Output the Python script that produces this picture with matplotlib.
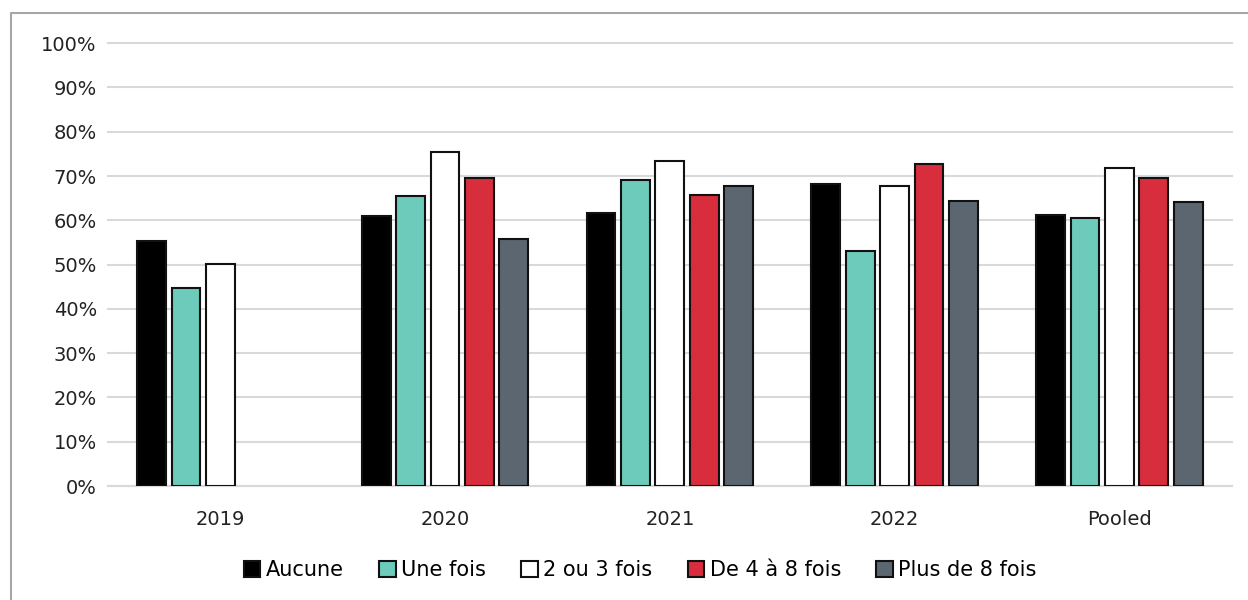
import matplotlib.pyplot as plt
import numpy as np
from matplotlib.lines import Line2D

# === Data ===
years = ["2019", "2020", "2021", "2022", "Pooled"]
series = ["Aucune", "Une fois", "2 ou 3 fois", "De 4 à 8 fois", "Plus de 8 fois"]
aucune = [55.3, 60.9, 61.6, 68.1, 61.2]
une_fois = [44.7, 65.6, 69.1, 53.1, 60.6]
deux_trois = [50.1, 75.5, 73.3, 67.7, 71.9]
quatre_huit = [np.nan, 69.6, 65.7, 72.7, 69.5]
plus_huit = [np.nan, 55.8, 67.8, 64.3, 64.1]
yticks = [0, 10, 20, 30, 40, 50, 60, 70, 80, 90, 100]

colors = ["#000000", "#6CCBBA", "#FFFFFF", "#D72D3C", "#5B6670"]
values = [aucune, une_fois, deux_trois, quatre_huit, plus_huit]

plt.rcParams['font.family'] = ['DejaVu Sans']

fig = plt.figure(figsize=(12.48, 6), dpi=100)
ax = fig.add_axes([0.0865, 0.19, 0.9005, 0.738])

# grey border: top and left only
fig.add_artist(Line2D([11 / 1248, 11 / 1248, 1], [0, 1 - 13 / 600, 1 - 13 / 600],
                      transform=fig.transFigure, color="#A6A6A6", linewidth=1.5))

x = np.arange(len(years))
step = 0.153
width = 0.128
for i, (name, vals, c) in enumerate(zip(series, values, colors)):
    ax.bar(x + (i - 2) * step, vals, width, color=c, edgecolor="#111111",
           linewidth=1.5, label=name, zorder=3)

ax.set_xlim(-0.5, len(years) - 0.5)
ax.set_ylim(0, 100)
ax.set_yticks(yticks)
ax.set_yticklabels([f"{t}%" for t in yticks], fontsize=14, color="#222222")
ax.set_xticks(x)
ax.set_xticklabels(years, fontsize=14, color="#222222")
ax.tick_params(axis="both", length=0, pad=8)
ax.tick_params(axis="x", pad=17)
ax.grid(axis="y", color="#D9D9D9", linewidth=1.5, zorder=0)
for gl in ax.get_ygridlines():
    gl.set_clip_on(False)
for s in ["left", "right", "top"]:
    ax.spines[s].set_visible(False)
ax.spines["bottom"].set_color("#D9D9D9")
ax.spines["bottom"].set_linewidth(1.5)

fig.legend(loc="center", bbox_to_anchor=(0.513, 0.05), ncol=5, frameon=False,
           fontsize=15, handlelength=0.8, handleheight=0.8, handletextpad=0.25,
           columnspacing=1.7)

plt.savefig("out.png", dpi=100)
